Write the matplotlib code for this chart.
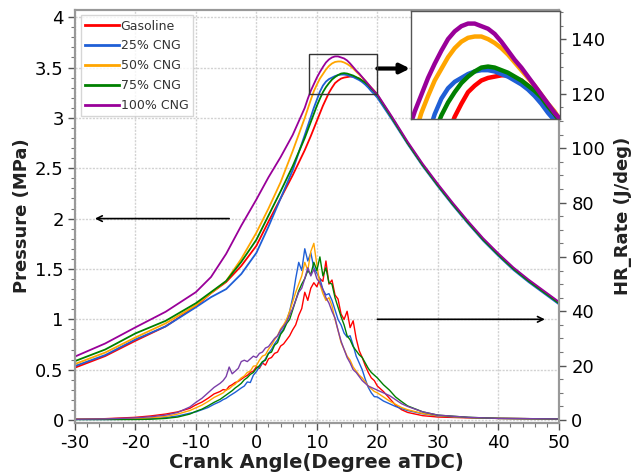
import numpy as np
import matplotlib
matplotlib.use("Agg")
import matplotlib.pyplot as plt
import matplotlib.patches as patches
from matplotlib.ticker import MultipleLocator, FuncFormatter

plt.rcParams["font.family"] = ["DejaVu Sans"]
plt.rcParams["axes.unicode_minus"] = False

# --- 圧力データ (MPa) ---
ang_p = np.concatenate([[-30, -25, -20, -15, -10, -7.5, -5, -2.5, 0, 2, 4, 6],
                        np.arange(8, 20.5, 0.5),
                        [22.5, 25, 27.5, 30, 32.5, 35, 37.5, 40, 42.5, 45, 47.5, 50]])
p_gas = [0.52, 0.635, 0.787, 0.93, 1.13, 1.26, 1.37, 1.53, 1.73, 1.97, 2.20, 2.43,
         2.68, 2.75, 2.82, 2.895, 2.97, 3.045, 3.12, 3.185, 3.25, 3.30, 3.345, 3.37, 3.39,
         3.40, 3.405, 3.41, 3.41, 3.40, 3.39, 3.37, 3.35, 3.325, 3.29, 3.255, 3.22,
         2.99, 2.75, 2.53, 2.33, 2.14, 1.96, 1.79, 1.64, 1.50, 1.38, 1.27, 1.16]
p_25 = [0.536, 0.645, 0.80, 0.93, 1.12, 1.22, 1.30, 1.45, 1.66, 1.92, 2.20, 2.48,
        2.83, 2.92, 3.01, 3.10, 3.18, 3.26, 3.32, 3.36, 3.385, 3.40, 3.415, 3.425, 3.43,
        3.43, 3.425, 3.415, 3.405, 3.39, 3.375, 3.355, 3.33, 3.30, 3.265, 3.235, 3.20,
        2.975, 2.74, 2.52, 2.32, 2.13, 1.95, 1.78, 1.63, 1.49, 1.37, 1.26, 1.15]
p_50 = [0.556, 0.67, 0.82, 0.96, 1.14, 1.26, 1.38, 1.60, 1.86, 2.10, 2.36, 2.67,
        3.00, 3.09, 3.18, 3.265, 3.33, 3.39, 3.435, 3.48, 3.515, 3.54, 3.555, 3.56, 3.56,
        3.55, 3.535, 3.515, 3.49, 3.46, 3.43, 3.40, 3.37, 3.335, 3.30, 3.27, 3.23,
        2.995, 2.755, 2.535, 2.335, 2.145, 1.965, 1.795, 1.645, 1.505, 1.385, 1.275, 1.165]
p_75 = [0.585, 0.70, 0.86, 0.985, 1.16, 1.27, 1.38, 1.57, 1.79, 2.03, 2.27, 2.52,
        2.80, 2.88, 2.96, 3.04, 3.12, 3.19, 3.255, 3.305, 3.345, 3.38, 3.405, 3.425, 3.44,
        3.444, 3.44, 3.43, 3.42, 3.405, 3.39, 3.37, 3.35, 3.325, 3.29, 3.26, 3.225,
        2.99, 2.75, 2.53, 2.33, 2.14, 1.96, 1.79, 1.64, 1.50, 1.38, 1.27, 1.16]
p_100 = [0.63, 0.76, 0.92, 1.075, 1.27, 1.42, 1.65, 1.93, 2.19, 2.41, 2.61, 2.83,
         3.10, 3.19, 3.27, 3.335, 3.40, 3.455, 3.505, 3.55, 3.58, 3.60, 3.61, 3.61, 3.60,
         3.59, 3.57, 3.54, 3.505, 3.47, 3.44, 3.405, 3.37, 3.335, 3.30, 3.265, 3.235,
         3.005, 2.765, 2.545, 2.345, 2.155, 1.975, 1.805, 1.655, 1.515, 1.395, 1.285, 1.175]

# --- 熱発生率データ (J/deg) ---
ang_hr = np.concatenate([[-30, -25, -20, -17.5, -15, -13, -11, -10, -9, -8, -7],
                         np.arange(-6, 20.5, 0.5),
                         [21, 22, 23, 24, 25, 27.5, 30, 35, 40, 45, 50]])
hr_gas = [0.3, 0.5, 1.0, 1.5, 2.2, 3.0, 4.3, 5.6, 6.6, 8.0, 9.6,
          10.5, 11.2, 11.0, 12.4, 13.0, 13.8, 14.2, 15.0, 15.8, 16.4, 17.5, 18.0, 19.6, 19.0, 21.0, 20.2,
          22.5, 23.0, 24.5, 25.0, 27.2, 28.0, 29.5, 31.0, 33.2, 35.0, 38.5, 41.0, 47.0, 44.0, 48.5, 50.5,
          49.0, 52.0, 51.0, 58.5, 50.0, 51.5, 46.0, 44.5, 39.0, 37.0, 40.0, 34.0, 36.5, 30.0, 25.5, 23.0,
          20.0, 17.5, 15.5, 14.5, 12.5,
          10.5, 8.0, 5.5, 3.8, 2.8, 1.6, 1.1, 0.8, 0.6, 0.5, 0.4]
hr_25 = [0.2, 0.2, 0.3, 0.5, 0.9, 1.5, 2.5, 3.0, 3.8, 4.6, 5.8,
         6.8, 7.5, 8.0, 8.8, 9.5, 10.2, 11.0, 11.8, 12.5, 14.0, 13.8, 16.5, 17.8, 19.5, 21.0, 22.5,
         24.5, 26.0, 28.0, 29.5, 32.0, 33.5, 36.5, 40.0, 45.0, 52.0, 58.0, 55.0, 63.0, 58.5, 61.5, 56.0,
         54.0, 52.0, 48.0, 46.0, 46.5, 44.0, 40.5, 37.0, 35.0, 32.0, 30.5, 31.0, 27.5, 23.5, 21.0, 18.5,
         15.0, 12.0, 10.0, 8.6, 8.5,
         7.0, 6.0, 5.0, 4.2, 3.5, 2.3, 1.5, 0.9, 0.6, 0.5, 0.4]
hr_50 = [0.3, 0.3, 0.5, 0.8, 1.3, 2.2, 3.5, 4.5, 5.5, 6.8, 8.3,
         9.4, 10.0, 11.0, 11.5, 12.5, 13.2, 14.5, 15.5, 16.2, 17.5, 18.0, 19.8, 20.0, 22.0, 23.5, 24.0,
         26.0, 27.5, 29.5, 31.0, 33.5, 35.0, 37.0, 40.0, 43.5, 47.0, 50.0, 53.0, 58.0, 55.0, 62.0, 65.0,
         57.0, 50.0, 46.5, 44.0, 45.0, 42.0, 37.0, 33.0, 28.5, 26.0, 23.5, 22.0, 19.5, 18.0, 16.5, 15.5,
         14.0, 12.5, 11.5, 10.5, 10.0,
         8.5, 7.0, 5.8, 4.6, 3.8, 2.4, 1.6, 0.9, 0.6, 0.5, 0.4]
hr_75 = [0.2, 0.2, 0.2, 0.3, 0.6, 1.1, 2.2, 3.2, 4.0, 5.2, 6.5,
         7.6, 8.4, 9.2, 10.0, 10.8, 11.8, 12.6, 13.5, 14.8, 15.6, 16.8, 17.5, 19.0, 20.0, 21.5, 22.0,
         24.5, 25.0, 27.5, 28.5, 31.5, 33.0, 35.5, 37.0, 40.5, 44.0, 47.5, 50.0, 52.0, 55.0, 53.5, 58.0,
         55.0, 60.0, 53.0, 56.0, 50.5, 50.0, 45.0, 41.5, 38.0, 35.0, 31.0, 29.5, 27.0, 25.5, 24.0, 23.0,
         21.0, 19.0, 17.5, 16.5, 15.5,
         13.0, 11.0, 8.5, 6.8, 5.2, 3.0, 1.8, 1.0, 0.6, 0.5, 0.4]
hr_100 = [0.3, 0.4, 0.8, 1.2, 1.8, 2.8, 4.8, 6.5, 8.0, 10.0, 12.0,
          13.5, 14.5, 16.0, 19.5, 17.0, 18.0, 19.0, 21.5, 22.0, 21.5, 22.5, 23.5, 23.0, 24.5, 25.0, 26.5,
          27.0, 28.5, 30.0, 31.0, 33.0, 34.5, 36.0, 38.5, 41.0, 44.0, 47.0, 48.5, 52.0, 56.0, 53.0, 55.5,
          52.0, 50.5, 48.0, 45.0, 43.0, 40.0, 37.5, 33.0, 29.0, 26.0, 23.0, 21.0, 18.5, 17.5, 16.0, 14.5,
          13.5, 12.5, 12.0, 11.5, 11.0,
          10.0, 9.0, 7.5, 6.0, 5.0, 3.0, 1.8, 1.0, 0.6, 0.5, 0.4]

labels = ["Gasoline", "25% CNG", "50% CNG", "75% CNG", "100% CNG"]
colors = ["#ff0000", "#1f5fd6", "#ffa500", "#008000", "#990099"]
hr_colors = ["#ff0000", "#1f5fd6", "#ffa500", "#008000", "#7a3fa8"]
p_all = [p_gas, p_25, p_50, p_75, p_100]
hr_all = [hr_gas, hr_25, hr_50, hr_75, hr_100]

fig = plt.figure(figsize=(6.35, 4.75), dpi=100)
ax = fig.add_axes([0.118, 0.110, 0.762, 0.870])
ax2 = ax.twinx()

lines = []
for p, c, lab in zip(p_all, colors, labels):
    ln, = ax.plot(ang_p, p, color=c, lw=1.3, label=lab)
    lines.append(ln)
for h, c in zip(hr_all, hr_colors):
    ax2.plot(ang_hr, h, color=c, lw=1.0)

ax.set_xlim(-30, 50)
ax.set_ylim(-0.027, 4.076)
ax2.set_ylim(-1.0, 151.0)

ax.xaxis.set_major_locator(MultipleLocator(10))
ax.xaxis.set_minor_locator(MultipleLocator(2))
ax.yaxis.set_major_locator(MultipleLocator(0.5))
ax.yaxis.set_minor_locator(MultipleLocator(0.1))
ax.yaxis.set_major_formatter(FuncFormatter(lambda v, pos: "%g" % v))
ax2.yaxis.set_major_locator(MultipleLocator(20))
ax2.yaxis.set_minor_locator(MultipleLocator(5))

for a in (ax, ax2):
    a.tick_params(which="major", length=5, width=1, color="#555555", labelsize=13, direction="out")
    a.tick_params(which="minor", length=3, width=0.8, color="#777777", direction="out")
    for s in a.spines.values():
        s.set_color("#999999")
        s.set_linewidth(1.5)
ax.tick_params(axis="y", pad=3)
ax2.tick_params(axis="y", pad=4)
ax.tick_params(axis="x", pad=3)

ax.grid(True, which="major", color="#d2d2d2", lw=1.0, ls=(0, (1.5, 1)))
ax.set_axisbelow(True)

ax.set_xlabel("Crank Angle(Degree aTDC)", fontsize=14, fontweight="bold", color="#222222", labelpad=1)
ax.set_ylabel("Pressure (MPa)", fontsize=13, fontweight="bold", color="#222222", labelpad=3)
ax2.set_ylabel("HR_Rate (J/deg)", fontsize=13, fontweight="bold", color="#222222", labelpad=6)

# 矢印
ax.annotate("", xy=(-26.7, 2.0), xytext=(-4.5, 2.0),
            arrowprops=dict(arrowstyle="->", color="k", lw=1.2, shrinkA=0, shrinkB=0))
ax.annotate("", xy=(47.7, 1.0), xytext=(20.0, 1.0),
            arrowprops=dict(arrowstyle="->", color="k", lw=1.2, shrinkA=0, shrinkB=0))
ax.annotate("", xy=(25.4, 3.49), xytext=(20.0, 3.49),
            arrowprops=dict(arrowstyle="-|>", color="k", lw=3, mutation_scale=14, shrinkA=0, shrinkB=0))
ax.add_patch(patches.Rectangle((8.72, 3.233), 11.24, 0.397, fill=False, ec="#333333", lw=1.0, zorder=5))

leg = ax2.legend(lines, labels, loc="upper left", fontsize=9, handlelength=2.7, handletextpad=0.15,
                 labelspacing=0.55, borderpad=0.35, borderaxespad=0.45, frameon=True, fancybox=False)
leg.get_frame().set_edgecolor("#cccccc")
leg.get_frame().set_linewidth(1.0)
for t in leg.get_texts():
    t.set_color("#333333")
for l in leg.get_lines():
    l.set_linewidth(2)

# 拡大図
axin = fig.add_axes([0.6468, 0.7488, 0.2351, 0.2288], zorder=10)
for p, c in zip(p_all, colors):
    axin.plot(ang_p, p, color=c, lw=3.2)
axin.set_xlim(8.7, 19.9)
axin.set_ylim(3.24, 3.66)
axin.set_xticks([])
axin.set_yticks([])
axin.set_facecolor("white")
for s in axin.spines.values():
    s.set_color("#555555")
    s.set_linewidth(1.0)

fig.savefig("out.png", dpi=100)
